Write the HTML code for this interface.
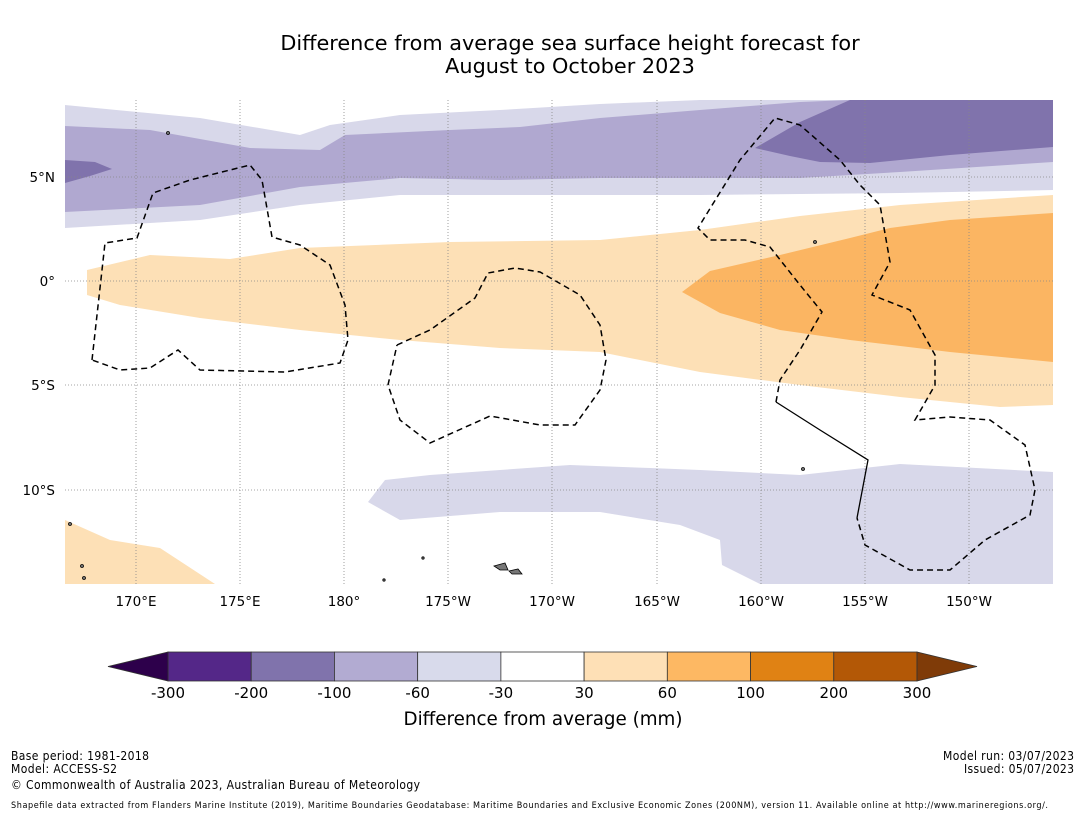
<!DOCTYPE html>
<html><head><meta charset="utf-8"><style>
html,body{margin:0;padding:0;background:#fff;}
svg{display:block;font-family:"DejaVu Sans","Liberation Sans",sans-serif;}
</style></head><body>
<svg id="chart" width="1085" height="816" viewBox="0 0 1085 816">
<text x="570" y="50" text-anchor="middle" font-size="20.8">Difference from average sea surface height forecast for</text>
<text x="570" y="73" text-anchor="middle" font-size="20.8">August to October 2023</text>
<defs><clipPath id="mc"><rect x="65" y="100" width="988" height="484"/></clipPath></defs>
<g clip-path="url(#mc)">
<polygon fill="#d8d8ea" points="65,105 200,118 300,135 330,125 400,115 500,110 600,104 700,100 1053,100 1053,190 900,193 700,195 400,195 300,205 200,220 65,228"/>
<polygon fill="#b0a8d0" points="65,126 150,130 250,148 320,150 345,135 450,130 520,127 600,118 700,110 800,102 850,100 1053,100 1053,162 900,172 800,178 600,178 500,180 400,178 300,187 200,205 65,212"/>
<polygon fill="#8073ac" points="755,148 800,122 850,100 1053,100 1053,147 950,155 870,163 820,162 790,156"/>
<polygon fill="#8073ac" points="65,160 95,162 112,169 90,176 65,183"/>
<polygon fill="#fde0b6" points="87,270 150,255 230,259 300,248 450,242 600,240 700,230 800,216 900,205 1053,195 1053,405 1000,407 900,397 800,385 700,372 600,352 500,348 400,340 300,330 200,318 120,305 87,295"/>
<polygon fill="#fbb562" points="682,292 710,271 780,255 850,238 890,228 950,220 1053,213 1053,362 950,352 850,340 780,330 720,313"/>
<polygon fill="#fde0b6" points="65,520 110,540 160,548 215,584 65,584"/>
<polygon fill="#d8d8ea" points="368,502 385,480 430,475 500,470 570,465 650,468 700,470 800,475 900,464 1053,472 1053,584 760,584 722,565 720,540 680,525 600,512 500,512 400,520"/>
<g stroke="#888" stroke-width="0.8" stroke-dasharray="1,2">
<line x1="136" y1="100" x2="136" y2="584"/><line x1="240" y1="100" x2="240" y2="584"/><line x1="344" y1="100" x2="344" y2="584"/><line x1="448" y1="100" x2="448" y2="584"/><line x1="552" y1="100" x2="552" y2="584"/><line x1="657" y1="100" x2="657" y2="584"/><line x1="761" y1="100" x2="761" y2="584"/><line x1="865" y1="100" x2="865" y2="584"/><line x1="969" y1="100" x2="969" y2="584"/>
<line x1="65" y1="177" x2="1053" y2="177"/><line x1="65" y1="281" x2="1053" y2="281"/><line x1="65" y1="385" x2="1053" y2="385"/><line x1="65" y1="490" x2="1053" y2="490"/>
</g>
<g fill="none" stroke="#000" stroke-width="1.5" stroke-dasharray="6,4">
<polyline points="92,360 105,243 137,238 153,193 190,180 250,165 262,180 272,237 300,245 330,265 345,305 348,340 340,363 285,372 200,370 178,350 150,368 120,370 92,360"/>
<polyline points="397,345 430,330 475,298 488,273 515,268 540,272 580,295 600,325 606,360 600,390 575,425 540,425 490,416 430,443 400,420 388,385 397,345"/>
<polyline points="776,402 780,380 800,350 822,312 800,285 770,247 745,240 710,240 698,228 740,160 775,118 800,125 840,160 860,185 880,205 890,262 872,295 910,310 935,355 935,385 915,420 950,417 990,420 1025,445 1035,490 1030,515 985,540 950,570 910,570 865,545 857,518"/>
</g>
<polyline fill="none" stroke="#000" stroke-width="1.3" points="776,402 820,430 868,460 857,518"/>
<g fill="#777" stroke="#000" stroke-width="0.8">
<polygon points="494,566 505,563 508,570 500,570"/><polygon points="509,571 518,569 522,574 512,574"/>
<circle cx="70" cy="524" r="1.5"/><circle cx="82" cy="566" r="1.5"/><circle cx="84" cy="578" r="1.5"/><circle cx="168" cy="133" r="1.5"/><circle cx="815" cy="242" r="1.5"/><circle cx="803" cy="469" r="1.5"/><circle cx="423" cy="558" r="1.2"/><circle cx="384" cy="580" r="1.2"/>
</g>
</g>
<g font-size="13.5">
<text x="55" y="182" text-anchor="end">5°N</text><text x="55" y="286" text-anchor="end">0°</text><text x="55" y="390" text-anchor="end">5°S</text><text x="55" y="495" text-anchor="end">10°S</text>
</g>
<g font-size="13.5" text-anchor="middle">
<text x="136" y="606">170°E</text><text x="240" y="606">175°E</text><text x="344" y="606">180°</text><text x="448" y="606">175°W</text><text x="552" y="606">170°W</text><text x="657" y="606">165°W</text><text x="761" y="606">160°W</text><text x="865" y="606">155°W</text><text x="969" y="606">150°W</text>
</g>
<g id="cbar"></g>
<text x="543" y="725" text-anchor="middle" font-size="18.3">Difference from average (mm)</text>
<g font-family="'DejaVu Sans Condensed','Liberation Sans Narrow','Liberation Sans',sans-serif" font-size="12">
<text x="11" y="760" textLength="138">Base period: 1981-2018</text>
<text x="11" y="773" textLength="106">Model: ACCESS-S2</text>
<text x="11" y="789" textLength="409">© Commonwealth of Australia 2023, Australian Bureau of Meteorology</text>
<text x="1074" y="760" text-anchor="end" textLength="131">Model run: 03/07/2023</text>
<text x="1074" y="773" text-anchor="end" textLength="110">Issued: 05/07/2023</text>
<text x="11" y="808" font-size="9" textLength="1037">Shapefile data extracted from Flanders Marine Institute (2019), Maritime Boundaries Geodatabase: Maritime Boundaries and Exclusive Economic Zones (200NM), version 11. Available online at http://www.marineregions.org/.</text>
</g>
</svg>
<script>
const boundaries = [-300,-200,-100,-60,-30,30,60,100,200,300];
const binColors = ["#542788","#8073ac","#b2abd2","#d8daeb","#ffffff","#fee0b6","#fdb863","#e08214","#b35806"];
const extendColors = ["#2d004b","#7f3b08"];
(function(){
const NS="http://www.w3.org/2000/svg";
const g=document.getElementById('cbar');
const x0=168,x1=917,barTop=652,barBot=681;
const step=(x1-x0)/(boundaries.length-1);
function xAt(i){return x0+i*step;}
for(let i=0;i<binColors.length;i++){
  const r=document.createElementNS(NS,'rect');
  r.setAttribute('x',xAt(i));r.setAttribute('y',barTop);r.setAttribute('width',step);r.setAttribute('height',barBot-barTop);
  r.setAttribute('fill',binColors[i]);r.setAttribute('stroke','#333');r.setAttribute('stroke-width','0.8');
  
  
  g.appendChild(r);
}
const mid=(barTop+barBot)/2;
const lt=document.createElementNS(NS,'polygon');
lt.setAttribute('points',x0+','+barTop+' '+x0+','+barBot+' 108,'+mid);
lt.setAttribute('fill',extendColors[0]);lt.setAttribute('stroke','#333');lt.setAttribute('stroke-width','0.8');


g.appendChild(lt);
const rt=document.createElementNS(NS,'polygon');
rt.setAttribute('points',x1+','+barTop+' '+x1+','+barBot+' 977,'+mid);
rt.setAttribute('fill',extendColors[1]);rt.setAttribute('stroke','#333');rt.setAttribute('stroke-width','0.8');


g.appendChild(rt);
boundaries.forEach(function(b,i){
  const t=document.createElementNS(NS,'text');
  t.setAttribute('x',xAt(i));t.setAttribute('y',698);t.setAttribute('text-anchor','middle');t.setAttribute('font-size','15');
  t.textContent=String(b);
  
  
  g.appendChild(t);
});
})();
</script>
</body></html>
